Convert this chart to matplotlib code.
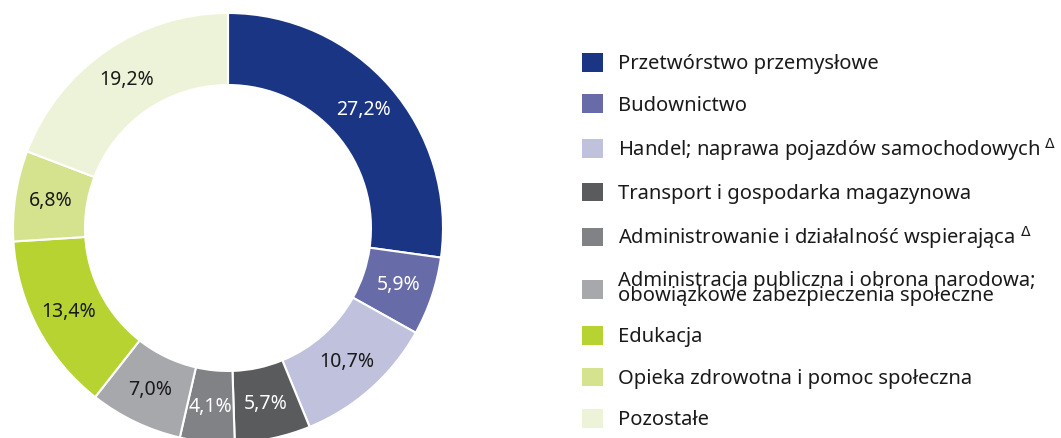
import matplotlib
matplotlib.use("Agg")
import matplotlib.pyplot as plt

plt.rcParams["font.family"] = ["Noto Sans", "DejaVu Sans"]

# data
sectors = [
    "Przetwórstwo przemysłowe",
    "Budownictwo",
    "Handel; naprawa pojazdów samochodowych $^{\\Delta}$",
    "Transport i gospodarka magazynowa",
    "Administrowanie i działalność wspierająca $^{\\Delta}$",
    "Administracja publiczna i obrona narodowa;\nobowiązkowe zabezpieczenia społeczne",
    "Edukacja",
    "Opieka zdrowotna i pomoc społeczna",
    "Pozostałe",
]
shares = [27.2, 5.9, 10.7, 5.7, 4.1, 7.0, 13.4, 6.8, 19.2]
colors = ["#1a3584", "#676ca9", "#bfc1dd", "#5a5b5d", "#818285",
          "#a7a8ab", "#b6d332", "#d5e38f", "#edf3d8"]
label_colors = ["white", "white", "#1a1a1a", "white", "white",
                "#1a1a1a", "#1a1a1a", "#1a1a1a", "#1a1a1a"]

W, H = 1061, 438
fig = plt.figure(figsize=(W / 100, H / 100), dpi=100)

# donut centre and outer radius in pixels
cx, cy, R = 228, 228, 215
ax = fig.add_axes([(cx - R) / W, (H - cy - R) / H, 2 * R / W, 2 * R / H])

wedges, texts = ax.pie(
    shares,
    colors=colors,
    startangle=90,
    counterclock=False,
    radius=1.0,
    labels=[f"{v:.1f}%".replace(".", ",") for v in shares],
    labeldistance=0.835,
    wedgeprops=dict(width=0.335, edgecolor="white", linewidth=1.5),
    textprops=dict(fontsize=14, ha="center", va="center"),
)
# pie() resets the limits, so set them afterwards
ax.set_xlim(-1, 1)
ax.set_ylim(-1, 1)
ax.axis("off")
for t, c in zip(texts, label_colors):
    t.set_color(c)
    t.set_horizontalalignment("center")
    t.set_verticalalignment("center")

leg = fig.legend(
    wedges, sectors,
    loc="upper left",
    bbox_to_anchor=(582 / W, 1 - 53 / H),
    frameon=False,
    fontsize=14.5,
    handlelength=1.05,
    handleheight=1.05,
    handletextpad=0.72,
    labelspacing=1.0,
    borderaxespad=0,
    borderpad=0,
)
for h in leg.legend_handles:
    h.set_edgecolor("none")
for t in leg.get_texts():
    t.set_color("#1a1a1a")
    t.set_linespacing(0.66)

fig.savefig("out.png", dpi=100)
